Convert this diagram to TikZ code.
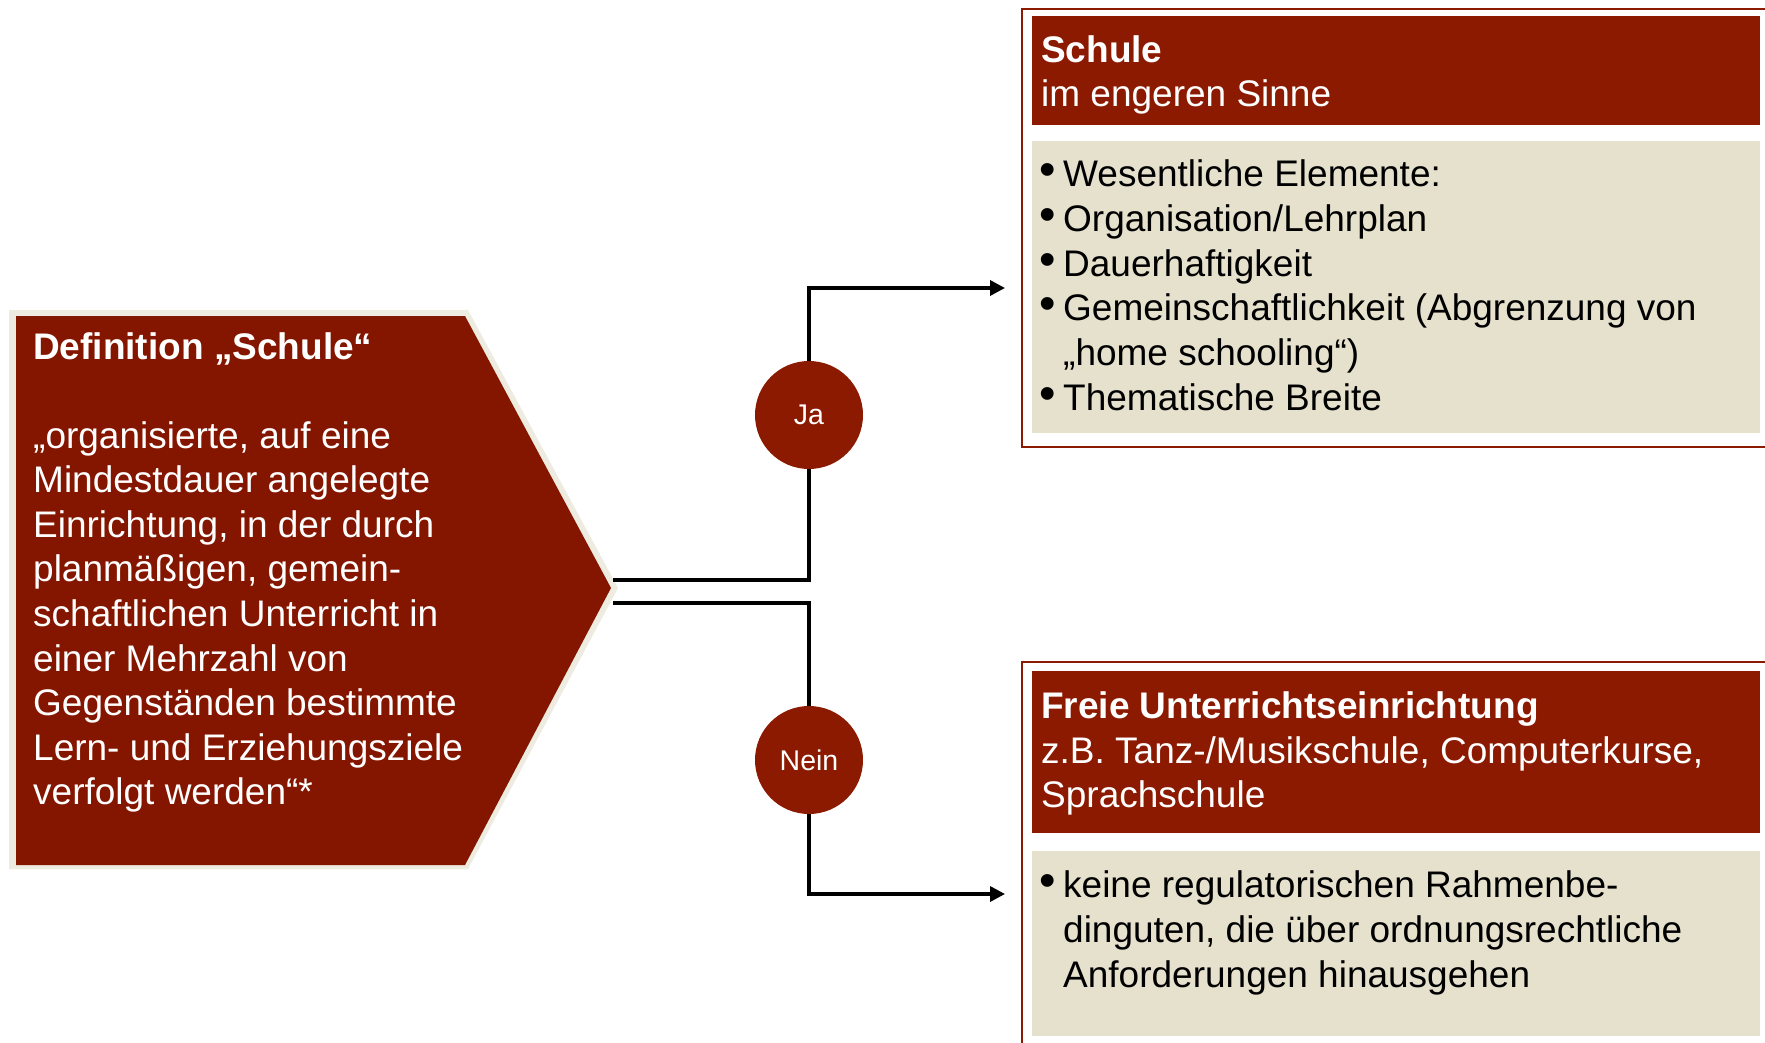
\documentclass[tikz,border=0pt]{standalone}
\usepackage{fontspec}
\setmainfont{Liberation Sans}
\usetikzlibrary{arrows.meta}
\definecolor{defred}{HTML}{841600}
\definecolor{hdrred}{HTML}{8B1A00}
\definecolor{beige}{HTML}{E6E1CD}
\definecolor{cream}{HTML}{EEEBE0}
\begin{document}
\begin{tikzpicture}[x=1pt,y=-1pt,
  wtxt/.style={anchor=base west,inner sep=0pt,text=white,font=\fontsize{37}{44.6}\selectfont},
  wbold/.style={wtxt,font=\fontsize{37}{44.6}\selectfont\bfseries},
  btxt/.style={anchor=base west,inner sep=0pt,text=black,font=\fontsize{37}{44.6}\selectfont},
  bul/.style={anchor=base west,inner sep=0pt,text=black,font=\fontsize{47}{50}\selectfont},
  panel/.style={anchor=north west,inner sep=0pt,outer sep=0pt,draw=none},
  frame/.style={draw=hdrred,line width=2pt},
  decision/.style={circle,fill=hdrred,text=white,minimum size=108pt,inner sep=0pt,font=\fontsize{28.5}{30}\selectfont},
  conn/.style={line width=3.4pt,black},
  arr/.style={conn,-{Triangle[length=15pt,width=15pt]}}
]
\useasboundingbox (0,0) rectangle (1765,1043);
\clip (0,0) rectangle (1765,1043);
\fill[white] (0,0) rectangle (1765,1043);

% left definition shape
\fill[cream] (9,310) -- (468,310) -- (618,588) -- (468,869) -- (9,869) -- cycle;
\fill[defred] (16,316) -- (465,316) -- (611,588) -- (465,865) -- (16,865) -- cycle;
\node[wbold] (deftitle) at (33,359) {Definition „Schule“};
\foreach \t [count=\i] in {{„organisierte, auf eine},{Mindestdauer angelegte},{Einrichtung, in der durch},{planmäßigen, gemein-},{schaftlichen Unterricht in},{einer Mehrzahl von},{Gegenständen bestimmte},{Lern- und Erziehungsziele},{verfolgt werden“*}}
  \node[wtxt] (d\i) at (33,{448+44.6*(\i-1)}) {\t};

% top right box
\draw[frame] (1022,9) rectangle (1800,447);
\node[panel,fill=hdrred,minimum width=728pt,minimum height=109pt] (tophead) at (1032,16) {};
\node[panel,fill=beige,minimum width=728pt,minimum height=292pt] (topbody) at (1032,141) {};
\node[wbold] (t1) at (1041,63) {Schule};
\node[wtxt] (t2) at (1041,107) {im engeren Sinne};
\foreach \t/\b [count=\i] in {{Wesentliche Elemente:}/1,{Organisation/Lehrplan}/1,{Dauerhaftigkeit}/1,{Gemeinschaftlichkeit (Abgrenzung von}/1,{„home schooling“)}/0,{Thematische Breite}/1}{
  \node[btxt] (tb\i) at (1063,{187+44.6*(\i-1)}) {\t};
  \ifnum\b=1 \node[bul] (tbb\i) at (1039,{186+44.6*(\i-1)}) {•};\fi
}

% bottom right box
\draw[frame] (1022,662) rectangle (1800,1080);
\node[panel,fill=hdrred,minimum width=728pt,minimum height=162pt] (bothead) at (1032,671) {};
\node[panel,fill=beige,minimum width=728pt,minimum height=185pt] (botbody) at (1032,851) {};
\node[wbold] (f1) at (1041,718) {Freie Unterrichtseinrichtung};
\node[wtxt] (f2) at (1041,763) {z.B. Tanz-/Musikschule, Computerkurse,};
\node[wtxt] (f3) at (1041,807) {Sprachschule};
\node[bul] (fbb1) at (1039,896) {•};
\node[btxt] (fb1) at (1063,897) {keine regulatorischen Rahmenbe-};
\node[btxt] (fb2) at (1063,942) {dinguten, die über ordnungsrechtliche};
\node[btxt] (fb3) at (1063,987) {Anforderungen hinausgehen};

% decisions
\node[decision] (ja) at (809,415) {Ja};
\node[decision] (nein) at (809,760) {Nein};
\coordinate (jaS) at (613,580);
\coordinate (neinS) at (613,603);
\coordinate (jaEnd) at (1005,288);
\coordinate (neinEnd) at (1005,894);
\draw[conn] (jaS) -| (ja.south);
\draw[arr] (ja.north) |- (jaEnd);
\draw[conn] (neinS) -| (nein.north);
\draw[arr] (nein.south) |- (neinEnd);
\end{tikzpicture}
\end{document}
